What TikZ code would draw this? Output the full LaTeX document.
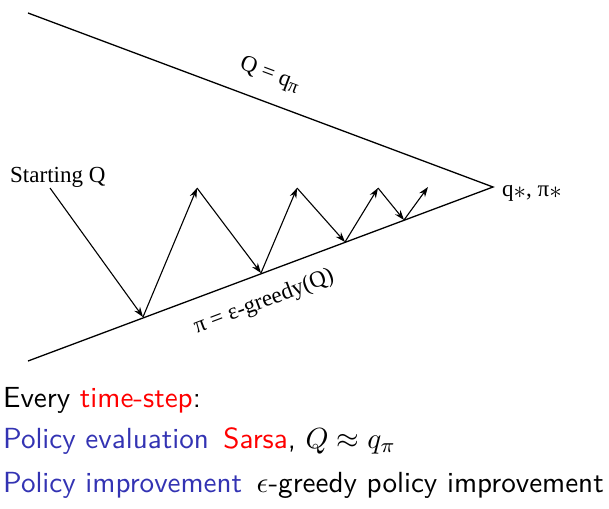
\documentclass[tikz,border=0pt]{standalone}
\usepackage{fontspec}
\setmainfont{Liberation Serif}
\usetikzlibrary{arrows.meta}
\definecolor{structblue}{RGB}{51,51,179}
\newcommand{\bodytext}[1]{\scalebox{2.91}{\sffamily\fontsize{10}{12}\selectfont #1}}
\tikzset{
  edge/.style={line width=1.3pt},
  arr/.style={line width=1.1pt,-{Stealth[length=10pt,width=7pt]}},
  lbl/.style={inner sep=0pt,font=\fontsize{23}{26}\selectfont},
  body/.style={inner sep=0pt,anchor=base west},
}
\begin{document}
\begin{tikzpicture}[x=1pt,y=-1pt]
\useasboundingbox (0,0) rectangle (609,508);
% frame lines
\coordinate (tl) at (28,13);
\coordinate (bl) at (28,361);
\coordinate (apex) at (493,187);
\draw[edge] (tl) -- (apex) -- (bl);
% zigzag points
\coordinate (s0) at (50,188);
\coordinate (b1) at (143,317);
\coordinate (t1) at (197,188);
\coordinate (b2) at (261,273);
\coordinate (t2) at (297,188);
\coordinate (b3) at (345,242);
\coordinate (t3) at (378,188);
\coordinate (b4) at (404,220);
\coordinate (t4) at (428,187);
\draw[arr] (s0) -- (b1);
\draw[arr] (b1) -- (t1);
\draw[arr] (t1) -- (b2);
\draw[arr] (b2) -- (t2);
\draw[arr] (t2) -- (b3);
\draw[arr] (b3) -- (t3);
\draw[arr] (t3) -- (b4);
\draw[arr] (b4) -- (t4);
% labels
\node[lbl,anchor=base west] (start) at (10,182) {Starting Q};
\node[lbl,rotate=-20.5] (qlab) at (270,75) {Q = q\textsubscript{\fontsize{19}{20}\selectfont π}};
\node[lbl,rotate=20.7] (plab) at (264,302) {π = ε-greedy(Q)};
\node[lbl,anchor=base west] (opt) at (502,196) {q\raisebox{-2pt}{$\ast$}, π\raisebox{-2pt}{$\ast$}};
% text
\node[body] (l1) at (3,407) {\bodytext{Every \textcolor{red}{time-step}:}};
\node[body] (l2) at (3,448) {\bodytext{\textcolor{structblue}{Policy evaluation} \,\textcolor{red}{Sarsa}, $Q \approx q_\pi$}};
\node[body] (l3) at (3,492) {\bodytext{\textcolor{structblue}{Policy improvement} \,$\epsilon$-greedy policy improvement}};
\end{tikzpicture}
\end{document}
